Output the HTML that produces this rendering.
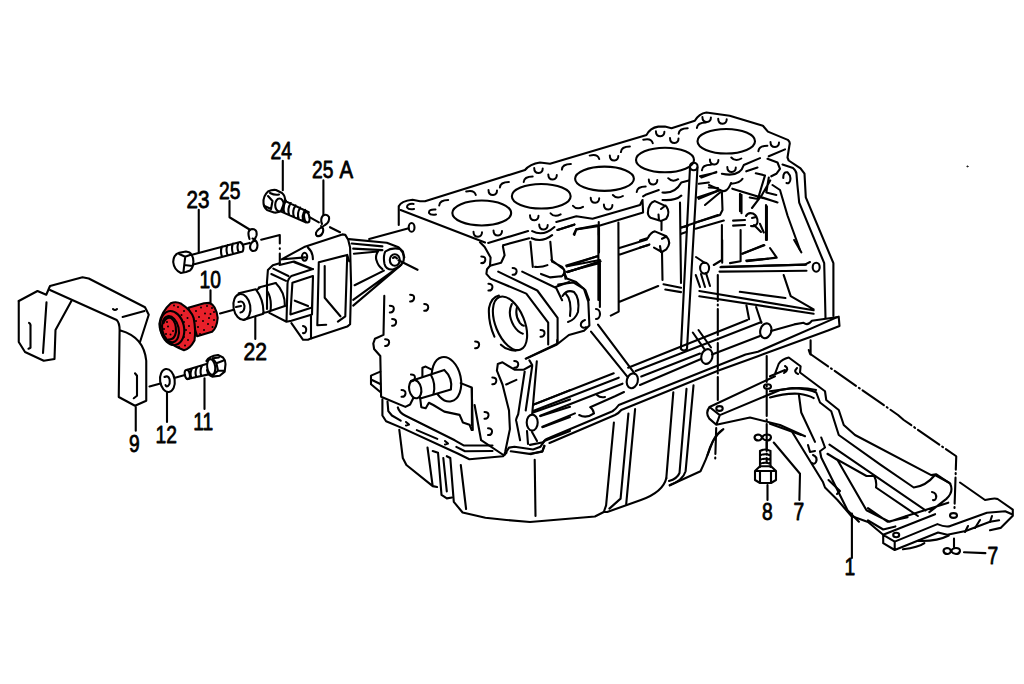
<!DOCTYPE html>
<html><head><meta charset="utf-8"><style>
html,body{margin:0;padding:0;background:#fff;width:1024px;height:684px;overflow:hidden}
svg{display:block}
</style></head><body>
<svg width="1024" height="684" viewBox="0 0 1024 684">
<rect width="1024" height="684" fill="#fff"/>
<g fill="none" stroke="#000" stroke-width="2.1" stroke-linecap="round" stroke-linejoin="round">
<!-- labels -->
<g font-family="Liberation Sans" font-size="24" fill="#000" stroke="#000" stroke-width="0.8">
<text transform="translate(186.5,208) scale(0.86,1)">23</text>
<text transform="translate(219,198.5) scale(0.8,1)">25</text>
<text transform="translate(270.5,158.5) scale(0.8,1)">24</text>
<text transform="translate(312,177.8) scale(0.8,1)">25</text>
<text transform="translate(339.5,177.8) scale(0.85,1)">A</text>
<text transform="translate(199.5,288) scale(0.8,1)">10</text>
<text transform="translate(243.5,360) scale(0.88,1)">22</text>
<text transform="translate(193.3,429.5) scale(0.8,1)">11</text>
<text transform="translate(155.5,443.3) scale(0.8,1)">12</text>
<text transform="translate(129,451.5) scale(0.8,1)">9</text>
</g>
<!-- leaders -->
<path d="M198.75,209.75V252.25 M229.5,201V217.25L250,229.75 M282.8,160.7V190.3 M323.4,180.4V214.4 M210.5,290.3V303.4 M255.3,317V339 M135.75,407V430.75 M167,392V422 M204.5,378.25V409"/>
<!-- bracket 9 -->
<path d="M18.75,301 L37.5,291 L46.25,294.75 L50,286 L82.5,277.25 L88.75,278.5 L145,307.25 L148.75,314.75 L140,342"/>
<path d="M18.75,301 L18.75,342 L25,352 L43.75,360.75 L54.5,359 L55.5,330 L71.4,300.9"/>
<path d="M50,290 L116.7,320 Q119.6,323 119.6,330 L118.75,397 L135,405.75 L146.25,400.75 L146.25,360.75 Q144,337 120.5,330.4"/>
<path d="M122.6,317 L144.5,311 M113,309 q2,2 4,0 M46.5,302.4 L43,353 M29,322.9 q2,1 1.5,4 V347.7 l-2,1 M135,373.25 L137,375.75 V395.75 L133.75,398.25"/>
<!-- washer 12 and line -->
<path d="M149.5,386.5 L160.5,383.5 M175,377.8 L185,375"/>
<ellipse cx="167.4" cy="380.5" rx="7.3" ry="11.6" transform="rotate(-8 167.4 380.5)"/>
<path d="M164.5,377 Q168,375 169.5,379 Q170.5,384 168,386 Q166,387 165.5,385"/>
<!-- bolt 11 -->
<path d="M186.5,369.9 L206.4,364.1 M187.3,379 L209.8,374.1 M192,368.6 q-2.5,4.5 -0.8,9.6 M197,367.2 q-2.5,4.5 -0.8,9.6 M202,365.8 q-2.5,4.5 -0.8,9.6"/>
<ellipse cx="187.3" cy="374.5" rx="2.5" ry="4.6" transform="rotate(-10 187.3 374.5)"/>
<path d="M206.4,361 Q209,356 218,355 L223,357.5 Q225.5,360 225.5,364.1 L224.7,371.6 L219.7,375.7 L212.2,376.6 Q208,375 207,370 M213,358.3 L218.9,357.5 M213,359 L216.4,363.3 L218,370.7 L213,374.9 M216.4,363.3 L223,360.8 M218,370.7 L224,370.7"/>
<ellipse cx="211.2" cy="367" rx="4" ry="7.9" transform="rotate(-8 211.2 367)"/>
<!-- bolt 23 -->
<path d="M192.9,254.5 L240.2,242 M193.3,264.4 L242.7,251.5 M240.2,242 Q245,245 242.7,251.5 M222,246.5 q-2,4.5 0,10 M227.5,245 q-2,4.5 0,10 M233,243.5 q-2,4.5 0,10 M238.5,242.5 q-2,4.5 0,9.5 M243.6,244.6 L249.6,242.9"/>
<path d="M173.2,262 Q173.5,254.5 179.2,252.8 L186,251.5 Q190,252 191.2,254 Q193.8,258 193.3,263 Q193,268 190,270.5 L186,272 L180.9,273 Q174,270 173.2,262 Z M179.2,254 L185.2,256.8 L191.2,254.5 M185.2,256.8 L184.3,264.5 L183.5,271.5 M184.3,265 L192.5,266"/>
<!-- washer 25 -->
<path d="M249.5,239 Q246.5,230 252,229 Q257.5,229 256.5,235.5 Q255,240 251,243.5 Q248.5,249 252.5,251 Q257.5,251.5 257.5,245 Q257,240 252.5,238.5"/>
<!-- dash-dot -->
<path d="M261.2,239.7 L279.8,235 L279.8,243.4 M279.8,248.3 L279.8,249 M279.8,253.6 L279.8,264"/>
<!-- bolt 24 -->
<path d="M263.5,203 Q263,196 268,191.5 Q272,189.5 276,190 L282,193 Q285.5,196 285,201 L281,211 Q278,213 274,212.5 L267,210 Q263.5,207 263.5,203 Z"/>
<path d="M270,193 Q275,195.5 279,194.5 M268,196 L272.5,201 L271,209 M264.5,206 L271,209"/>
<ellipse cx="279.5" cy="205" rx="4.3" ry="6.5"/>
<path d="M284.9,200.9 L308.8,212.2 M281.2,211.6 L305.7,222.3 M286.0,200.7 Q282.0,206.9 284.5,213.0 M290.8,203.0 Q286.8,209.1 289.3,215.1 M295.6,205.3 Q291.6,211.2 294.1,217.2 M300.4,207.5 Q296.4,213.4 298.9,219.3 M305.2,209.8 Q301.2,215.6 303.7,221.4 "/>
<ellipse cx="306.8" cy="217.3" rx="2.6" ry="5.2" transform="rotate(-10 306.8 217.3)"/>
<path d="M309.5,217.2 L318.9,222.3"/>
<!-- washer 25A -->
<path d="M322,224 Q320,219 323,215.5 Q327,213.5 329,217 Q330,222 325,225 L319,229 Q314,233 317,236 Q321,237 323,232 Q324,228 321,226"/>
<path d="M330,227.2 L340,232.2"/>
<!-- bushing 10 (red) -->
<g fill="#e8202a">
<path d="M188.3,307.7 L204.1,303.3 L209.4,302.9 Q216,305 217.7,317.8 Q217,328 212,331.8 L197.1,336.2 Z"/>
<path d="M159.4,324 Q161,312 170.8,303.3 Q176,301 181.3,303.8 Q191,310 193.6,317.8 Q196,330 194.5,340.6 Q190,349 184,350.3 Q175,347 165.5,339.7 Q159.5,332 159.4,324 Z"/>
</g>
<ellipse cx="172.2" cy="328" rx="11.8" ry="17.2" transform="rotate(-12 172.2 328)"/>
<ellipse cx="170.5" cy="329.2" rx="8.2" ry="13.2" transform="rotate(-12 170.5 329.2)"/>
<path d="M163.5,323 Q166,316.5 171,318 Q176.5,322 176,332 Q174.5,340 168.5,339.5"/>
<g fill="#000" stroke="none"><circle cx="178" cy="307" r="1"/><circle cx="184" cy="311" r="1"/><circle cx="187.5" cy="318" r="1"/><circle cx="189" cy="326" r="1"/><circle cx="190" cy="333" r="1"/><circle cx="188" cy="340" r="1"/><circle cx="185" cy="345.5" r="1"/><circle cx="179" cy="347" r="1"/><circle cx="174" cy="305.5" r="1"/><circle cx="181.5" cy="315" r="1"/><circle cx="184" cy="322" r="1"/><circle cx="186" cy="330" r="1"/><circle cx="184" cy="337" r="1"/><circle cx="196" cy="311" r="1"/><circle cx="201" cy="307.5" r="1"/><circle cx="207" cy="306" r="1"/><circle cx="212" cy="308" r="1"/><circle cx="199" cy="317" r="1"/><circle cx="205" cy="313.5" r="1"/><circle cx="210.5" cy="314" r="1"/><circle cx="214" cy="320" r="1"/><circle cx="203" cy="321" r="1"/><circle cx="208" cy="324" r="1"/><circle cx="212.5" cy="327" r="1"/><circle cx="198" cy="327" r="1"/><circle cx="204" cy="330" r="1"/><circle cx="200" cy="334" r="1"/><circle cx="196" cy="321" r="1"/><circle cx="209" cy="318" r="1"/><circle cx="214" cy="312" r="1"/><circle cx="164" cy="329" r="1"/><circle cx="168" cy="326.5" r="1"/><circle cx="166" cy="334" r="1"/><circle cx="170.5" cy="334.5" r="1"/><circle cx="167" cy="322" r="1"/><circle cx="173" cy="331" r="1"/></g>
<path d="M220,313.5 L233.75,309.75"/>

<!-- part 22 -->
<ellipse cx="241.9" cy="306.9" rx="8.4" ry="13" transform="rotate(-10 241.9 306.9)"/>
<path d="M238.5,302 q5,-2 6,4 q0,6 -4,6.5 M236,307 L241,306"/>
<path d="M238.8,293.2 L255.7,289.2 Q264,300 263.4,313.7 L243.4,319.9 M258.8,287.6 L275.7,283 M263,313 L266.5,312.2 L284.9,306 M267.5,291.5 Q272,299 270.5,310.5 M257.5,289.5 L260,287.5"/>
<path d="M275.7,283 Q285,292 284.9,306"/>
<!-- mount bracket -->
<path d="M279.6,263.3 L272.8,265.2 L267.9,270.1 L266.9,282.8 M267,282 L267,309"/>
<path d="M281.6,259.3 L304.1,247.1 L342.3,234.4 L345.3,234.9 L348.2,239.8 L350.1,247.6 L351.1,285 L350.1,324.2 L347.2,326.6 L311,338.4 L308,339.8 L303.1,339.8 L291.4,323.2 M283,259.3 L305.1,257.4 M308,247.6 Q313,252 312.9,259.3 M294.3,262.3 L310,268.2 M279.6,265 L294,261.5 L312.9,269.1"/>
<ellipse cx="304.6" cy="256.8" rx="2.6" ry="4"/>
<path d="M273.3,268.6 L288.4,276 M271.3,274 L286,280.9"/>
<path d="M291.4,276 L312.9,269.1 M291.4,276 Q287.5,279 287.5,284 L286.5,321.7 M292.4,282.8 L312.9,276 M292.4,282.8 L290.4,314.4 L312,307.5 L313,276 M294.8,300.7 L308,306 M269.3,312.9 L286.5,321.7 L291.4,320.7 L312,314.4 L313,276 M311,316.3 L311,338.4"/>
<path d="M303,326 q4,1 3,5 q-1,3 -3,2"/>
<path d="M318.8,262.3 L347.2,254.9 L349.2,261.3 M318.8,262.3 L317.3,325.2 L326.2,324.7 M324.7,266 L324.7,297.7 L340.4,316.3 M347.2,256 L345.3,316.3 L337.9,321.7"/>
<!-- arm -->
<path d="M348.8,239.1 L386.8,242.8 L398.5,247.2 L402.9,251.5 L404.3,257.4 M351.7,243.5 L382.4,246.4 M353.2,248.6 L382.4,250.1 M353.9,253.7 L378,251.5 Q375,256 376.5,260.3 Q378,266 382.4,269.1"/>
<path d="M354.6,285.2 L383.9,270.6 M353.2,299.8 L395.6,269.1 M353.2,305.6 L401.4,264.7"/>
<path d="M385.3,251.5 Q392,247 400,249 Q405,254 403.5,261 Q401,267 393,269.5 Q386,270 384.5,264 Q383,256 385.3,251.5 Z"/>
<ellipse cx="394.8" cy="260" rx="5" ry="5.8"/>
<path d="M393,258 Q395,256 397,258.5"/>
<path d="M369.2,239.1 L408.7,228.2 M398.5,260.3 L417.5,269.8"/>
<ellipse cx="411.6" cy="227.4" rx="2.9" ry="4.4"/>

<!-- deck outline -->
<path d="M398.75,225 L398.75,206.25 Q401,201 412.5,199.75 L420,201.25 L425,201.25 L525,170 Q530,164 540,162.5 L550,163.75 L646.6,134.9 Q650,128 658.2,126.6 L664.9,126.6 L671.5,128.2 L694.8,120.8 Q699,113.5 706.4,112.5 L729.7,115.8 L762.9,125.7 L767.9,131.6 L787.8,139.9 Q790.5,142 789.5,144.9 L787.5,157.5 L788.7,160.5 L800.5,168.4 L804.5,173.7 L805.8,197.4 L833.4,263.2 L833.4,316"/>
<path d="M782.5,164.5 L793,168 Q796.5,171 796.5,174.1 L797.4,185 L799.2,202.6 L824.2,263.2 L825.5,318"/>
<path d="M400.6,210 L485,242.5 M556.3,221.9 L576.3,216.3 L592.5,218.8 L640,205 L642.5,200 M643.1,196.3 L646.3,194.4 L658.8,190 M662.5,192.5 Q675,194 681.3,182.5 L688.8,180.6 M701.3,177.5 L716.3,171.9 M721.9,173.8 Q740,177.5 743.8,165 L760,158.1 M768.8,156.3 L785,149.4 M642.5,200 L643.1,212.5 L597.5,226.3 L576.3,229.4 L574.4,235 M557.5,230 L574.4,224.4 M662.5,200 Q675,201 681.3,195.6 M698.8,183.8 L708.8,182.5 M731.3,183.8 Q740,183 742.5,178.8 M746.3,171.3 L757.5,167.5 M681.3,227.5 L718,215 M700,176.3 L716.3,172.5"/>
<path d="M488.2,242.9 L528.1,231.1 M532.2,231.1 Q543.3,237 554.4,227 M557.4,230 L574.4,224.7 M503.4,245.2 L529.2,238.2 M531.6,238.2 Q542.1,243 552.1,235.2 M573.8,234.1 L576.1,229.4 L597.2,225.3 M598.4,227 L598.4,300 M566.8,266.3 L597.2,256.3 M567.3,272.2 L600,261.6"/>
<ellipse cx="481.75" cy="213" rx="29.4" ry="12.5"/>
<ellipse cx="541.25" cy="196.25" rx="29.4" ry="12.3"/>
<ellipse cx="604.5" cy="178.75" rx="29.4" ry="12.1"/>
<ellipse cx="665" cy="160" rx="29" ry="12.3"/>
<ellipse cx="726.25" cy="141.25" rx="28.75" ry="12.3"/>
<!-- bolt marks -->
<path stroke-width="2" d="M413.6,203.9 Q406.6,203.4 407.1,207.4 Q408.6,209.9 414.1,208.9 M435.5,209.5 Q428.5,209.0 429.0,213.0 Q430.5,215.5 436.0,214.5 M439.2,205.5 Q439.8,200.0 448.2,200.0 M466.2,191.5 Q474.2,189.5 475.8,195.0 M488.5,189.9 Q488.5,194.9 493.0,194.9 Q497.0,194.4 497.0,190.4 M499.9,187.4 Q500.4,181.9 508.9,181.9 M473.5,231.8 Q473.5,236.8 478.0,236.8 Q482.0,236.2 482.0,232.2 M493.5,230.5 Q493.5,235.5 498.0,235.5 Q502.0,235.0 502.0,231.0 M534.2,167.9 Q534.2,172.9 538.7,172.9 Q542.7,172.4 542.7,168.4 M523.7,182.0 Q524.2,176.5 532.7,176.5 M548.3,174.5 Q548.3,179.5 552.8,179.5 Q556.8,179.0 556.8,175.0 M561.9,169.6 Q562.4,164.1 570.9,164.1 M589.7,155.6 Q597.7,153.6 599.2,159.1 M609.8,155.4 Q609.8,160.4 614.3,160.4 Q618.3,159.9 618.3,155.9 M620.9,152.1 Q621.4,146.6 629.9,146.6 M530.0,215.2 Q530.0,220.2 534.5,220.2 Q538.5,219.7 538.5,215.7 M550.6,213.3 Q554.6,217.8 560.6,214.3 M573.0,205.8 Q577.0,210.3 583.0,206.8 M590.7,197.8 Q590.7,202.8 595.2,202.8 Q599.2,202.3 599.2,198.3 M603.9,204.4 Q603.9,209.4 608.4,209.4 Q612.4,208.9 612.4,204.9 M612.9,195.0 Q616.9,199.5 622.9,196.0 M636.7,192.0 Q637.2,186.5 645.7,186.5 M648.8,179.5 Q648.8,184.5 653.3,184.5 Q657.3,184.0 657.3,180.0 M539.2,224.4 Q539.2,229.4 543.7,229.4 Q547.7,228.9 547.7,224.9 M655.9,131.2 Q655.9,136.2 660.4,136.2 Q664.4,135.7 664.4,131.7 M670.0,137.9 Q670.0,142.9 674.5,142.9 Q678.5,142.4 678.5,138.4 M678.7,133.7 Q679.2,128.2 687.7,128.2 M643.3,139.7 Q651.3,137.7 652.8,143.2 M702.4,117.1 Q702.4,122.1 706.9,122.1 Q710.9,121.6 710.9,117.6 M718.2,118.8 Q718.2,123.8 722.7,123.8 Q726.7,123.3 726.7,119.3 M696.9,127.9 Q697.4,122.4 705.9,122.4 M770.5,142.0 Q770.5,147.0 775.0,147.0 Q779.0,146.5 779.0,142.5 M758.4,151.2 Q758.9,145.7 767.4,145.7 M709.9,159.5 Q709.9,164.5 714.4,164.5 Q718.4,164.0 718.4,160.0 M731.3,157.5 Q735.3,162.0 741.3,158.5 M727.3,166.9 Q727.3,171.9 731.8,171.9 Q735.8,171.4 735.8,167.4 M668.2,178.2 Q672.2,182.7 678.2,179.2 M701.9,170.3 Q702.4,164.8 710.9,164.8"/>
<!-- front face (timing side) -->
<path d="M480,242.3 L484.7,247 L490.6,257.5 L490,265.7 L487,269.2 L486.4,273.9 L490.6,278.6 L526.3,293.6 L548.2,322.6 L548.2,344.5"/>
<path d="M490,265.7 L501.1,262.8 L504.6,255.2 L502.9,246.4 L503.4,245.2 M498.2,271.6 L537.3,290.5 L557.6,317.9 L557.6,343 M522.2,271.6 L556.2,288 L562.1,300.2 M564.4,272.8 L566.8,278.6 L576.1,282.1 L585.5,290.3 L589,300 M556.2,286.8 L569.1,282.1"/>
<path d="M526.3,358.6 L556.9,344.5 L568.9,335 L584,330.8 L589.4,325.4 L588.3,301.7 L584,288.8 L573.2,282.4 L558.2,284.5"/>
<ellipse cx="510" cy="323.3" rx="14.5" ry="28.3" transform="rotate(-22 510 323.3)"/>
<path d="M494.4,336.7 Q488,322 489,307.9 Q491.5,297 498.9,295.5 M500.9,344.7 Q506,350 515.8,350.6"/>
<path d="M511.8,304 Q507,314 513.8,325.8 Q518,332.5 522.8,333.7 M516.8,307.9 Q515,316 519.8,322.8 Q522,325.5 523.8,325.8"/>
<path d="M562.5,296 Q567,289 574,292 Q580,298 578,312 Q575,320 568,322 M566,294 Q572,300 570,316"/>
<path d="M565.5,278.8 L563.9,269.4 L551.4,260 M567,266.3 L599.9,260 M567,271.7 L599.9,263.1 M599.9,263 L599.9,307 M530.4,241.7 L532.8,266.9 M550.3,241.7 L552.1,261.6 M535.1,266.9 Q542,267.5 547.4,265.1 M552.1,261.6 L562.1,266.9 Q566,272 564.4,272.8 Q562,277 560.9,276.3 L550.3,277.4 L541,273.9"/>
<path d="M599,228 L599,252.5 M599.5,261 L599.5,300 M618.4,222.5 L618.7,311.6 L610.8,315.6 M619.6,301.8 L658.2,286 M663.5,284.2 L681,287.7 M665.3,289.5 L681,292.1 M566.3,265.6 L597.5,256.3 M567.5,271.9 L600.6,261.3 M619.4,248.1 L646.9,239.4 M620,254.4 L649.4,244.4 M598.75,222 L598.75,235"/>
<!-- timing cover -->
<path d="M384.3,295.9 L383.5,334.9 L374.9,338.8 L373.3,343.5 L374.1,349 L380.3,356 L381.1,396.7 L405.4,406.9 L410.1,404.5 L413.2,398.2"/>
<path d="M380.3,371.6 L371,375.6 L371,384.2 L380.3,392 M371,379.5 L380.3,384"/>
<ellipse cx="446.5" cy="379.3" rx="14.3" ry="22.5" transform="rotate(-12 446.5 379.3)"/>
<path fill="#fff" d="M414.7,379.8 L444.3,369.9 Q453,378 450.9,389.6 L420.2,398.4 Z"/>
<ellipse fill="#fff" cx="415.2" cy="389.1" rx="6" ry="9.3" transform="rotate(-12 415.2 389.1)"/>
<path d="M431,375 Q436,384 433.5,394 M422.4,367.7 L425.7,366.6 L432.2,369.9 M422.4,367.7 L422.4,376.5"/>
<path d="M420.2,398.4 L421.3,407.2 L425.7,408.3 L428.9,402.8 L433.3,405 L444.3,411.6 L459.6,414.9 L462.9,422.5 L469.5,424.7 L471.7,430 M460.7,383.1 L471.7,387.5 L472.8,430"/>



<g stroke-width="1.8">
<path stroke-width="2" d="M481.3,256.4 Q485.6,256.4 485.3,259.9 Q485.0,263.4 481.3,263.1 M488.4,283.8 Q492.7,283.8 492.4,287.3 Q492.1,290.8 488.4,290.5 M410.1,294.7 Q414.4,294.7 414.1,298.2 Q413.8,301.7 410.1,301.4 M424.2,304.1 Q428.5,304.1 428.2,307.6 Q427.9,311.1 424.2,310.8 M389.8,305.7 Q394.1,305.7 393.8,309.2 Q393.5,312.7 389.8,312.4 M392.1,319.0 Q396.4,319.0 396.1,322.5 Q395.8,326.0 392.1,325.7 M385.1,339.2 Q389.4,339.2 389.1,342.7 Q388.8,346.2 385.1,345.9 M475.1,341.5 Q479.4,341.5 479.1,345.0 Q478.8,348.5 475.1,348.2 M410.9,374.4 Q415.2,374.4 414.9,377.9 Q414.6,381.4 410.9,381.1 M401.5,390.1 Q405.8,390.1 405.5,393.6 Q405.2,397.1 401.5,396.8 M492.3,377.5 Q496.6,377.5 496.3,381.0 Q496.0,384.5 492.3,384.2 M514.2,361.1 Q518.5,361.1 518.2,364.6 Q517.9,368.1 514.2,367.8 M484.5,412.0 Q488.8,412.0 488.5,415.5 Q488.2,419.0 484.5,418.7 M540.5,330.0 Q544.8,330.0 544.5,333.5 Q544.2,337.0 540.5,336.7 M512.6,268.1 Q516.9,268.1 516.6,271.6 Q516.3,275.1 512.6,274.8 M488.0,428.3 Q492.3,428.3 492.0,431.8 Q491.7,435.3 488.0,435.0 M585,320 Q580,322 581,326 Q583,329 586,327"/>
</g>
<!-- right side of front face down to pan -->
<path d="M497.8,364.1 L496.9,370.6 L502.5,384.5 L509,410.5 L509.9,429.1 L505.3,451.3 L504.3,455 M497.8,364.1 L502.5,362.3 L514.5,369.7 L523.8,369.7 L532.2,365 L529.4,360.4 M525.7,358.6 L557.2,343.7 L557.2,340 M506.2,384.5 L516.4,379.9"/>
<path d="M524.7,371.5 L518.2,414.2 Q515,421 516.4,421.6 L520.1,440.2 M532.2,366 L525.7,410.5 M536.8,361.3 L532.2,414.2 M527,431 L528,444 M532,432 L537,441"/>
<ellipse cx="532.2" cy="422.6" rx="5.5" ry="8"/>
<path d="M504.3,455 L509,447.6 L514.5,446.7 L533.1,449.5 L540.5,446.7 L544.2,441.1 L570,430.9 M510.8,451.3 L531.2,454.1 L542.4,451.3 L544.2,445.7 M533.1,404.9 L570,390.1 M533.1,412.4 L570,399.4 M540.5,416.1 L570,406.8 M542.4,427.2 L570,417 M471.9,388.2 L471.9,425.3 M474.6,405 L481.1,440.2 L503.4,455"/>
<!-- crankcase rails -->
<path d="M533.1,404.8 L613.75,373.3 M628.1,367.7 L747.3,320 M533.1,411.1 L618.75,377.7 M635.6,371 L761.4,322.1 M540.2,415.8 L622.5,383.7 M641.25,376.5 L700,353.6"/>
<path d="M542.5,426.7 L574.9,413.4 M579.2,415 Q586.2,419 594,413.4 Q593,409 590.2,407.2 L615,396.25 L624,392 M640,385 L701,359 M712,354.5 L760,336 M771,331 L794.2,324.4 L803.6,322.8 Q808,326 811.8,320.8 L836.4,317.3 M597,395 Q600,398 605,397"/>
<path d="M543.3,442.3 Q544.8,439.2 549.5,437.7 L612.5,411.25 Q616,409 618.75,405 L745.6,354.5 L757.9,351.8 L836.1,317.6 L838.7,316.7 L839.5,326 L828,330.5 M549.5,443 L615,415 Q619,413 621.25,410 L719.2,370.3 L757.9,356.2 L828,330.5"/>
<path d="M530,444.9 L543.3,442.3 M530,453.8 L542.3,451.6 L544.5,446 M810.6,340.4 L810.6,354.5"/>
<!-- rods / bosses -->
<path d="M591,331.6 L627.9,377.3 M598,324.6 L634.9,373.8 M692.8,332.5 L705.1,350.1 M698.5,330 L711,347.5 M746.4,305.3 L749.1,319.3 M756.1,307 L761.4,322.8"/>
<ellipse cx="632.3" cy="380.8" rx="5.5" ry="7.5" transform="rotate(15 632.3 380.8)"/>
<ellipse cx="706.9" cy="356.5" rx="5.5" ry="7.5" transform="rotate(15 706.9 356.5)"/>
<ellipse cx="765.8" cy="330.8" rx="5.5" ry="7.5" transform="rotate(15 765.8 330.8)"/>
<path d="M596,309 a4,5 0 1 1 0,10"/>
<circle cx="967.4" cy="166.4" r="0.6" stroke-width="0.8"/>
<!-- dipstick -->
<path d="M690,167.5 L680.9,349 M697.5,167.5 L687,349 M680.9,349 Q684,352 687,349"/>
<circle cx="693.75" cy="166.5" r="3.8"/>
<!-- rear internal -->
<path d="M647.9,212.5 Q648.5,203 654.9,201.1 L666.3,206.4 Q670.5,212.5 666.3,218.7 L661.1,220.9 L650.5,217.8 Q647.5,215 647.9,212.5 Z M661,209 L665.5,205.5 M658.5,214.5 L659,220.5"/>
<path d="M640,240.6 L647.9,238 Q651,232 654.9,231.4 L666.3,236.2 Q672,242.4 666.3,249.4 L661.9,252 L654,247.6 M640,247.6 L648.8,245 M662,238.8 L665.5,237 M660,246 L661,252"/>
<path d="M661.5,221.3 L661.5,230.1 M662,252 L662.5,280 M680,202.5 L681,283"/>


<path d="M681.3,227.5 L687.5,226.3 M681.3,233.8 L686.3,231.9 M695.6,222.5 L720,215 L722.5,210 L721.9,192.5 M695.6,228.8 L723.8,220.6 M721.9,225 L721.9,260 L713.8,265 M697.5,197.5 L720,190 M705,205 L720,192.5 M709,185 L720,190 M720,190 Q727,194 731,183"/>
<path d="M746,216 Q748,212 753,213.5 Q758,216 757.5,222.5 Q756,227 751,226 M752,218 L756,217 M754,225 L761,232"/>
<path d="M733.1,220.6 L745,220 M733.1,225.6 L745,225 M740,193.8 L740,211.3 M740.6,230 L740.6,261.3 L730,263.1 M741.5,194.8 L741.5,213.3 M770.2,180.5 L762,194.8 L752,208 M766,205 L766,240 M760,223.8 L763.8,232.5 M742.5,253.8 L763.8,245 M746.3,260.6 L768,258.8 M721.3,266.9 L806,264.6 M766.9,206.3 L766.9,240 M755.8,173.3 L765,175.4 L757.9,199 L749.7,197.5 M767.5,158.8 L777.5,162.5 L780,168.8 L776.3,173.8 L771.3,176.3 M783.3,178 Q783,171.5 787.7,172.4 Q791.5,176 790,181 Q789,184 786.5,183 M732.3,188.7 L776.3,202 M768.8,177.5 L766.3,192.5 L776.3,195 M772.5,185 L780,190 L787.5,215.5 L800,250 M762.5,197.5 L777.5,202.5 M708.8,187.5 L718,188 M698.8,198.8 L720,190"/>
<path d="M719.5,271.6 L806.5,270.8 M699.3,291 L813.6,310.3 M699.3,296.2 L813.6,313.8 M739.8,291.8 L785.4,298 M783.7,275.1 L790.7,296.2 L813.6,309.4 M743.3,253.2 L764.4,245.3 M746.8,261.1 L776.7,257.6 L770,248 M722.2,240 L722.2,262.8 M720.4,267.2 L804.8,264.6 L810,262 M794.2,240 L801.3,252.3"/>
<ellipse cx="816.2" cy="267.2" rx="3.5" ry="4.5"/>
<ellipse cx="704.6" cy="268.1" rx="4.5" ry="5.5"/>
<path d="M695.8,275.1 L700,287 M701,274 L705,287 M706,273 L710,286 M696,257 L705,263"/>
<path d="M717.8,275 L717.8,400 M716.2,428 L715.2,460" stroke-dasharray="26,3.5,1,3.5"/>

<!-- oil pan -->
<path d="M382.4,399.4 L382.4,415.5 L386.1,421.3 L403.6,428.6 L457.7,453.5 L469.4,459.3 L503,456.2 L506.5,452.7"/>
<path d="M387.5,401.6 L388.3,411.1 L391.9,415.5 L400.7,420.6 M397.8,407.4 Q399.2,412.5 405.1,415.5 L454.8,440.3 L463.6,445.4 L492.5,445.5 M416.8,430.1 L437.3,438.9 M406,422 l3,2.5 l-3,1 M445,441 l3,2.5 l-3,1 M456.3,446.9 L465,451.3 L492.5,451"/>
<path d="M399.3,429.9 L402.8,458 L406.4,465 L432.7,486.1 L437.1,487 M427.5,447.5 L432.7,486.1 M432.7,451 L438,452.7 L441.5,494.9 L446.8,498.4 L452,497.5 M443.3,458 L446.8,491.4"/>
<path d="M446.8,456.2 L450.3,458 L453.8,501.9 L462.6,512.5 L485.4,517.8 L506.5,520 L530,522 L594.9,516.5 L603.8,512 L607.2,512 L640.9,500 Q663,492 666.3,478.2 M669.8,485.3 L700.5,471.2 Q703,466 705.8,459.4 L712.8,441.4 Q716,434 723.3,429.1"/>
<path d="M460.8,465 L466.1,509 M534.7,459.8 L535.5,516 M613.9,422.5 L606.1,505.3 L603.8,512 M628.4,413.6 L620.6,498.6 L609.4,508.6 M635.1,409.1 L626.2,504.2 M673.3,392.3 L666.3,478.2 M686.5,388.8 L679.5,473 Q677,479 669,480.9 M693.5,385.3 L685.6,471.2 Q683,480 669.8,485.3"/>

<!-- subframe part 1 -->
<!-- left arm -->
<path d="M709.5,407 L775,376.25 M709.5,407 Q705,413 709.3,418.6 L716.3,424.7 L750,417.5 L780,425 L805,436.25 M709.5,407 L719.8,415.1 L780,390 Q800,386 816,390 M716.3,424.7 L719.8,415.1"/>
<ellipse cx="719.5" cy="408.5" rx="3.2" ry="2.4"/>
<path d="M770,376.25 L785,370 M775,373.75 L778.75,363.75 Q782,359 788.75,357.5 L800.6,366.25 L800,372.5 L825,391.25 L826.25,400 L838.75,410 L843.75,425 L855,435 L931.2,475.1 L936,474.2 L950.2,483.7 M785,366 Q790,369 784,373 M797,368 Q793,372 798,374"/>
<path d="M770,391.25 L792.5,388.1 Q810,389 816.25,392.5 L820,402.5 L831.25,411.25 L838.75,435 L880,464.4 L913.75,487.5 Q926,486 935,475 L948.75,482.5 M770,397.5 Q785,393 798.75,393.75 Q808,395 813.75,398.1 M798.75,393.75 L801.25,412.5 L815,441.9 M770,423.75 L801.25,435"/>
<path d="M722.5,430 Q712,438 707.5,455"/>
<!-- long body -->
<path d="M792.5,432.5 L822.8,481.7 L825,487.5 L837.5,500 L851.3,516 L868,522 L883.2,534.8"/>
<path d="M821.25,437.5 L825,447.5 L820,451.25 L821.25,457.5 L847.5,510.3 L858.9,521.7 M829.5,444.7 L925.5,510.3 M827.6,454.2 L866.5,476 L874.1,476 Q877,481 876,487.5 L917.9,516 M827.5,453.75 L837.5,460 L866.5,510.3 L889.4,521.7 L906.5,516 M868,508.1 L887.8,521.8 L907.6,517.2 M868,520.3 L883.2,529.5 L895.4,526.4"/>
<path d="M950.2,483.7 Q954,492 946.4,498.9 L929.3,512.2 M906.5,516 L948.3,502.7"/>
<path d="M808,445 L810,452 L815,451 M813,455 Q818,457 816,462 Q814,465 812,463 M828.5,480 L840,491 L837,494 M932,492 Q937,493 936,498 Q935,501 933,500"/>
<!-- right boss and front end -->
<path d="M960,482.5 L985,500 Q995,497.5 997.6,499 L1012.8,509.6 L1012.8,515.7 L1000.6,527.9 L990,530.2"/>
<path d="M883.2,534.8 L894.7,541.6 L894.7,550 L883.2,543.2 Z M883.2,534.8 L935.1,514.2 M894.7,541.6 L937.4,524.1 Q944,527 948.8,526.4 L986.9,512.7 L1005.2,511.2 L1012,514.2 M894.7,550 L938.1,532.5 L947.3,534.8 L965.6,531 L990,521.8 L999.1,520.3"/>
<path d="M903,549.3 Q918.3,547.6 924.4,543.2 M918.3,540.9 Q936.6,541.6 948.8,535.5 M965,532 L968,526 M975,528 L980,520 M990,522 L992,516"/>
<ellipse cx="896.2" cy="535" rx="3" ry="2.2"/>
<path d="M808.75,350 L810,353.75 L898,415 L903.75,420 L956.25,456.25 L954.5,508 M766.7,356 L766.7,462" stroke-dasharray="26,3.5,1,3.5"/>
<ellipse cx="953.5" cy="515.5" rx="3.5" ry="2.4"/>
<ellipse cx="767.5" cy="386.5" rx="3.5" ry="2.3"/>
<!-- washers 7 & bolt 8 -->
<path d="M762,437.5 q-1,-3 -4,-3 q-3.5,0.5 -3.5,3 q0.5,3 4,3 q2.5,0 3.5,-3 q1.5,-3 5,-3 q4,0 4,3 q-0.5,3 -4,3 q-3.5,-0.5 -5,-3"/>
<path d="M951,551 q-1,-3 -4,-3 q-3.5,0.5 -3.5,3 q0.5,3 4,3 q2.5,0 3.5,-3 q1.5,-3 5,-3 q4,0 4,3 q-0.5,3 -4,3 q-3.5,-0.5 -5,-3 M964,552.3 L985.4,553.1 M954,538.6 L954,547"/>
<path d="M760,451 L760,467 M770.5,451 L770.5,467 M760,451 Q765,448 770.5,451 M760,455.5 Q765,453 770.5,455.5 M760,460 Q765,457.5 770.5,460 M760,464 Q765,461.5 770.5,464"/>
<path d="M755,471 L760,466.3 L771,466.3 L776,471 L776,480 L771,483 L760,483 L755,480 Z M755,471 L771,471 L776,471 M760,471 L760,483 M771,471 L771,483"/>
<path d="M767.5,485 V500 M773.75,442.5 L800,473.75 L799.4,500 M851.9,513.6 V558 M766.7,442 V451"/>
<g font-family="Liberation Sans" font-size="24" fill="#000" stroke="#000" stroke-width="0.8">
<text transform="translate(762,519.6) scale(0.8,1)">8</text>
<text transform="translate(793.6,519.6) scale(0.8,1)">7</text>
<text transform="translate(987.5,564) scale(0.8,1)">7</text>
<text transform="translate(844.5,575) scale(0.8,1)">1</text>
</g>

</g>
</svg>
</body></html>
